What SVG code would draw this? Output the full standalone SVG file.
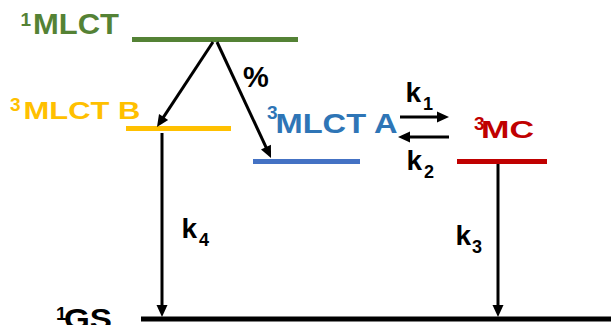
<svg xmlns="http://www.w3.org/2000/svg" width="611" height="325" viewBox="0 0 611 325">
<defs>
<style>
text{font-family:"Liberation Sans",Arial,sans-serif;font-weight:bold}
.lvl{stroke-width:5;fill:none}
.con{stroke:#000;stroke-width:3;fill:none;marker-end:url(#ah)}
.sup{font-size:19px}
.k{font-size:28px;fill:#000}
.sub{font-size:18px}
</style>
<marker id="ah" markerUnits="userSpaceOnUse" markerWidth="12" markerHeight="11" refX="2" refY="5.5" orient="auto" overflow="visible">
<path d="M0,0 L12,5.5 L0,11 Z" fill="#000"/>
</marker>
</defs>
<rect width="611" height="325" fill="#fff"/>
<g id="S1MLCT">
<line class="lvl" x1="132" y1="39.5" x2="298" y2="39.5" stroke="#548235"/>
<text fill="#548235"><tspan class="sup" x="20.5" y="26">1</tspan><tspan x="33" y="34" font-size="29" textLength="86" lengthAdjust="spacingAndGlyphs">MLCT</tspan></text>
</g>
<g id="T3MLCTB">
<line class="lvl" x1="126" y1="128.5" x2="231" y2="128.5" stroke="#FFC000"/>
<text fill="#FFC000"><tspan class="sup" x="10" y="110.5">3</tspan><tspan x="23.5" y="119" font-size="23" textLength="117" lengthAdjust="spacingAndGlyphs">MLCT B</tspan></text>
</g>
<g id="T3MLCTA">
<line class="lvl" x1="253" y1="161.5" x2="360" y2="161.5" stroke="#4472C4"/>
<text fill="#2E75B6"><tspan class="sup" x="267" y="118.5">3</tspan><tspan x="275.5" y="133" font-size="28" textLength="122" lengthAdjust="spacingAndGlyphs">MLCT A</tspan></text>
</g>
<g id="T3MC">
<line class="lvl" x1="457" y1="161.5" x2="547" y2="161.5" stroke="#C00000"/>
<text fill="#C00000"><tspan class="sup" x="474" y="130">3</tspan><tspan x="481" y="138" font-size="23" textLength="53" lengthAdjust="spacingAndGlyphs">MC</tspan></text>
</g>
<g id="GS">
<line class="lvl" x1="141" y1="319" x2="611" y2="319" stroke="#000"/>
<text fill="#000"><tspan class="sup" x="56" y="319.5">1</tspan><tspan x="64" y="329" font-size="30" textLength="48" lengthAdjust="spacingAndGlyphs">GS</tspan></text>
</g>
<g id="connectors">
<line class="con" x1="213" y1="42" x2="162.5" y2="118.6"/>
<line class="con" x1="217" y1="42" x2="266.8" y2="148.9"/>
<line class="con" x1="162" y1="133" x2="162" y2="307"/>
<line class="con" x1="498" y1="164" x2="498" y2="307"/>
<line class="con" x1="400" y1="117" x2="439" y2="117"/>
<line class="con" x1="449" y1="137" x2="408" y2="137"/>
</g>
<g id="labels">
<text x="243" y="87" font-size="29" fill="#000">%</text>
<text class="k"><tspan x="405.5" y="102">k</tspan><tspan class="sub" x="423" y="110">1</tspan></text>
<text class="k"><tspan x="406.5" y="170">k</tspan><tspan class="sub" x="424" y="178">2</tspan></text>
<text class="k"><tspan x="181.5" y="238">k</tspan><tspan class="sub" x="199" y="246">4</tspan></text>
<text class="k"><tspan x="455.5" y="245">k</tspan><tspan class="sub" x="472" y="253">3</tspan></text>
</g>
</svg>
